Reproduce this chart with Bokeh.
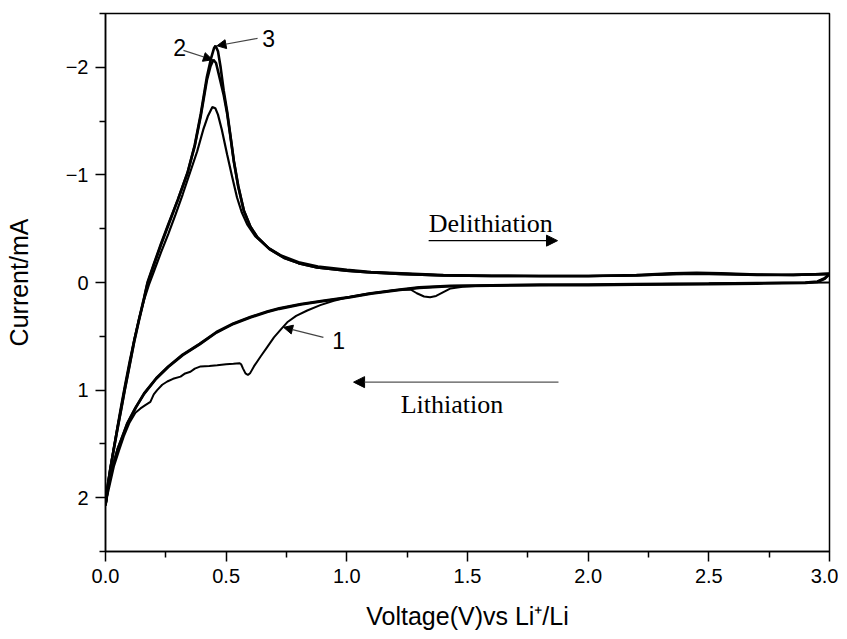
from bokeh.plotting import figure
from bokeh.models import (Range1d, FixedTicker, PrintfTickFormatter, CustomJSTickFormatter,
                          Arrow, NormalHead, Label)
from bokeh.embed import file_html
from bokeh.resources import INLINE

# ---------------- data ----------------
x_ticks = [0.0, 0.5, 1.0, 1.5, 2.0, 2.5, 3.0]
x_minor = [0.25, 0.75, 1.25, 1.75, 2.25, 2.75]
y_ticks = [-2, -1, 0, 1, 2]
y_minor = [-2.5, -1.5, -0.5, 0.5, 1.5, 2.5]

# cycle 1 cathodic (lithiation) sweep 3.0 V -> 0 V
c1_v = [3.0, 2.5, 2.0, 1.7, 1.55, 1.48, 1.43, 1.40, 1.37, 1.345, 1.32, 1.29, 1.264, 1.2, 1.15,
        1.084, 1.0, 0.946, 0.89, 0.836, 0.79, 0.753, 0.725, 0.698, 0.67, 0.642, 0.615, 0.6, 0.59,
        0.58, 0.57, 0.562, 0.555, 0.53, 0.50, 0.463, 0.43, 0.394, 0.37, 0.352, 0.33, 0.311, 0.28,
        0.256, 0.235, 0.214, 0.2, 0.186, 0.165, 0.145, 0.124, 0.1, 0.076, 0.055, 0.035, 0.02, 0.01, 0.0]
c1_i = [0.0, 0.01, 0.02, 0.025, 0.03, 0.04, 0.055, 0.09, 0.125, 0.137, 0.13, 0.1, 0.065, 0.07, 0.085,
        0.105, 0.14, 0.17, 0.21, 0.26, 0.31, 0.37, 0.44, 0.51, 0.6, 0.69, 0.78, 0.84, 0.86,
        0.845, 0.8, 0.76, 0.75, 0.755, 0.76, 0.77, 0.775, 0.78, 0.80, 0.83, 0.845, 0.875, 0.895,
        0.92, 0.95, 1.0, 1.04, 1.11, 1.14, 1.17, 1.21, 1.3, 1.43, 1.57, 1.71, 1.86, 1.96, 2.07]

# cycle 1 anodic (delithiation) sweep 0 V -> 3.0 V
a1_v = [0.0, 0.01, 0.02, 0.035, 0.05, 0.065, 0.08, 0.10, 0.12, 0.14, 0.16, 0.18, 0.20, 0.23, 0.26,
        0.29, 0.32, 0.35, 0.38, 0.405, 0.425, 0.443, 0.455, 0.466, 0.482, 0.504, 0.525, 0.545, 0.565, 0.587,
        0.62, 0.67, 0.73, 0.80, 0.88, 1.0, 1.1, 1.25, 1.4, 1.6, 1.8, 2.0, 2.2, 2.4, 2.6, 2.8, 3.0]
a1_i = [2.04, 1.86, 1.72, 1.53, 1.33, 1.14, 0.96, 0.73, 0.52, 0.33, 0.16, 0.02, -0.10, -0.28, -0.45,
        -0.63, -0.82, -1.02, -1.22, -1.42, -1.55, -1.63, -1.62, -1.56, -1.42, -1.19, -0.98, -0.79, -0.65, -0.54,
        -0.43, -0.33, -0.25, -0.19, -0.15, -0.12, -0.10, -0.085, -0.07, -0.065, -0.06, -0.06, -0.065, -0.08, -0.075, -0.07, -0.08]

# cycle 2 cathodic
c2_v = [3.0, 2.98, 2.95, 2.9, 2.7, 2.5, 2.2, 2.0, 1.8, 1.6, 1.43, 1.3, 1.22, 1.1, 1.01, 0.9, 0.81,
        0.72, 0.67, 0.60, 0.53, 0.46, 0.39, 0.32, 0.26, 0.21, 0.16, 0.125, 0.09, 0.07, 0.05, 0.03, 0.013, 0.0]
c2_i = [-0.08, -0.04, -0.01, 0.0, 0.005, 0.01, 0.015, 0.02, 0.02, 0.025, 0.03, 0.045, 0.065, 0.1, 0.135, 0.17, 0.2,
        0.24, 0.27, 0.32, 0.38, 0.46, 0.57, 0.67, 0.78, 0.89, 1.03, 1.16, 1.31, 1.43, 1.55, 1.71, 1.86, 2.07]

# cycle 2 anodic
a2_v = [0.0, 0.01, 0.02, 0.033, 0.05, 0.065, 0.079, 0.10, 0.12, 0.14, 0.16, 0.174, 0.20, 0.23, 0.26,
        0.30, 0.34, 0.37, 0.395, 0.42, 0.435, 0.447, 0.458, 0.47, 0.49, 0.504, 0.518, 0.532, 0.55,
        0.573, 0.60, 0.629, 0.68, 0.739, 0.80, 0.877, 1.0, 1.085, 1.222, 1.4, 1.6, 1.8, 2.0, 2.2,
        2.35, 2.45, 2.55, 2.7, 2.85, 3.0]
a2_i = [2.06, 1.88, 1.73, 1.56, 1.35, 1.17, 1.0, 0.76, 0.53, 0.33, 0.14, 0.0, -0.17, -0.36, -0.54,
        -0.77, -1.02, -1.27, -1.55, -1.88, -2.01, -2.07, -2.04, -1.93, -1.74, -1.57, -1.35, -1.12, -0.89,
        -0.67, -0.52, -0.42, -0.31, -0.23, -0.18, -0.14, -0.11, -0.095, -0.08, -0.065, -0.06, -0.06, -0.06, -0.065,
        -0.08, -0.085, -0.08, -0.07, -0.07, -0.08]

# cycle 3 cathodic
c3_v = [3.0, 2.98, 2.95, 2.9, 2.7, 2.5, 2.2, 2.0, 1.8, 1.6, 1.43, 1.3, 1.22, 1.1, 1.01, 0.9, 0.81,
        0.72, 0.67, 0.60, 0.53, 0.46, 0.39, 0.32, 0.26, 0.21, 0.16, 0.125, 0.09, 0.07, 0.05, 0.03, 0.013, 0.0]
c3_i = [-0.08, -0.035, -0.005, 0.005, 0.01, 0.015, 0.02, 0.025, 0.025, 0.03, 0.035, 0.05, 0.07, 0.105, 0.14, 0.175, 0.205,
        0.245, 0.275, 0.325, 0.385, 0.465, 0.575, 0.675, 0.785, 0.895, 1.035, 1.165, 1.315, 1.435, 1.555, 1.715, 1.865, 2.07]

# cycle 3 anodic
a3_v = [0.0, 0.01, 0.02, 0.033, 0.05, 0.065, 0.079, 0.10, 0.12, 0.14, 0.16, 0.174, 0.20, 0.23, 0.26,
        0.30, 0.34, 0.37, 0.395, 0.42, 0.437, 0.45, 0.456, 0.466, 0.477, 0.49, 0.504, 0.518, 0.532, 0.55,
        0.573, 0.60, 0.629, 0.68, 0.739, 0.80, 0.877, 1.0, 1.085, 1.222, 1.4, 1.6, 1.8, 2.0, 2.2,
        2.35, 2.45, 2.55, 2.7, 2.85, 3.0]
a3_i = [2.07, 1.89, 1.74, 1.57, 1.36, 1.18, 1.01, 0.77, 0.54, 0.34, 0.15, 0.01, -0.16, -0.35, -0.53,
        -0.77, -1.02, -1.28, -1.57, -1.91, -2.08, -2.18, -2.20, -2.15, -2.0, -1.78, -1.59, -1.36, -1.13, -0.9,
        -0.67, -0.52, -0.42, -0.31, -0.23, -0.18, -0.14, -0.11, -0.095, -0.08, -0.065, -0.06, -0.06, -0.06, -0.07,
        -0.085, -0.09, -0.085, -0.075, -0.07, -0.08]

# ---------------- figure ----------------
p = figure(width=838, height=637, output_backend="svg", toolbar_location=None,
           x_range=Range1d(0, 3), y_range=Range1d(2.5, -2.5),
           min_border_left=105, min_border_right=9, min_border_top=13, min_border_bottom=86)
p.background_fill_color = "white"
p.border_fill_color = "white"
p.xgrid.visible = False
p.ygrid.visible = False
p.outline_line_color = "black"
p.outline_line_width = 1.5
p.outline_line_alpha = 1.0

for ax in (p.xaxis[0], p.yaxis[0]):
    ax.axis_line_color = "black"
    ax.axis_line_width = 1.5
    ax.major_tick_line_color = "black"
    ax.major_tick_line_width = 1.5
    ax.minor_tick_line_color = "black"
    ax.minor_tick_line_width = 1.5
    ax.major_tick_in = 0
    ax.major_tick_out = 10
    ax.minor_tick_in = 0
    ax.minor_tick_out = 6
    ax.major_label_text_font = "Liberation Sans"
    ax.major_label_text_font_size = "20px"
    ax.major_label_text_color = "black"
    ax.major_label_standoff = 7
    ax.axis_label_text_font = "Liberation Sans"
    ax.axis_label_text_font_size = "25px"
    ax.axis_label_text_font_style = "normal"
    ax.axis_label_text_color = "black"

p.xaxis.ticker = FixedTicker(ticks=x_ticks, minor_ticks=x_minor)
p.yaxis.ticker = FixedTicker(ticks=y_ticks, minor_ticks=y_minor)
p.xaxis.formatter = PrintfTickFormatter(format="%.1f")
p.yaxis.formatter = CustomJSTickFormatter(
    code="return tick < 0 ? '\\u2212' + Math.abs(tick).toFixed(0) : tick.toFixed(0);")
p.xaxis.axis_label = "Voltage(V)vs Li\u207a/Li"
p.yaxis.axis_label = "Current/mA"
p.xaxis.axis_label_standoff = 16
p.yaxis.axis_label_standoff = 30

# curves
p.line(c1_v, c1_i, line_color="black", line_width=2.0)
p.line(a1_v, a1_i, line_color="black", line_width=2.2)
p.line(c2_v, c2_i, line_color="black", line_width=2.6)
p.line(a2_v, a2_i, line_color="black", line_width=2.6)
p.line(c3_v, c3_i, line_color="black", line_width=2.6)
p.line(a3_v, a3_i, line_color="black", line_width=2.6)

# direction arrows and labels
p.add_layout(Arrow(end=NormalHead(size=11, fill_color="black", line_color="black"),
                   x_start=1.339, y_start=-0.389, x_end=1.873, y_end=-0.389,
                   line_color="black", line_width=1.3))
p.add_layout(Label(x=1.339, y=-0.55, text="Delithiation", text_font="Liberation Serif",
                   text_font_size="26px", text_color="black", text_baseline="alphabetic"))
p.add_layout(Arrow(end=NormalHead(size=11, fill_color="black", line_color="black"),
                   x_start=1.877, y_start=0.926, x_end=1.028, y_end=0.926,
                   line_color="#555555", line_width=1.3))
p.add_layout(Label(x=1.223, y=1.13, text="Lithiation", text_font="Liberation Serif",
                   text_font_size="26px", text_color="black", text_baseline="alphabetic"))

# cycle number annotations
p.add_layout(Arrow(end=NormalHead(size=9, fill_color="black", line_color="black"),
                   x_start=0.903, y_start=0.51, x_end=0.738, y_end=0.417,
                   line_color="#444444", line_width=1.2))
p.add_layout(Label(x=0.966, y=0.537, text="1", text_font="Liberation Sans", text_font_size="23px",
                   text_color="black", text_align="center", text_baseline="middle"))
p.add_layout(Arrow(end=NormalHead(size=9, fill_color="black", line_color="black"),
                   x_start=0.323, y_start=-2.157, x_end=0.443, y_end=-2.07,
                   line_color="#444444", line_width=1.2))
p.add_layout(Label(x=0.307, y=-2.185, text="2", text_font="Liberation Sans", text_font_size="23px",
                   text_color="black", text_align="center", text_baseline="middle"))
p.add_layout(Arrow(end=NormalHead(size=9, fill_color="black", line_color="black"),
                   x_start=0.630, y_start=-2.269, x_end=0.462, y_end=-2.20,
                   line_color="#444444", line_width=1.2))
p.add_layout(Label(x=0.676, y=-2.269, text="3", text_font="Liberation Sans", text_font_size="23px",
                   text_color="black", text_align="center", text_baseline="middle"))

open("out.html", "w").write(file_html(p, INLINE))
